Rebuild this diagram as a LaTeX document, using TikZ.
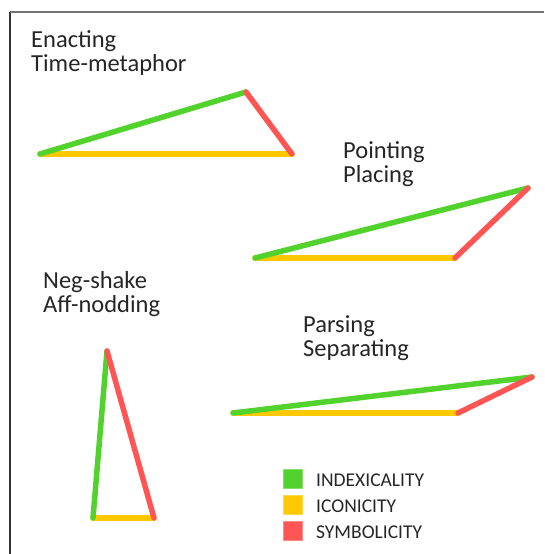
\documentclass[tikz,border=0pt]{standalone}
\usepackage{fontspec}
\setmainfont{Carlito}
\usepackage{xcolor}
\usepackage{tikz}
\usetikzlibrary{positioning}

\definecolor{indexgreen}{HTML}{52D22C}
\definecolor{icongold}{HTML}{FFC800}
\definecolor{symbred}{HTML}{FF5555}

\tikzset{
  edge/.style={line width=5.5pt, line cap=round},
  title/.style={anchor=base west, inner sep=0pt, font=\fontsize{24.5}{26}\selectfont, text=black!85},
  keytext/.style={anchor=base west, inner sep=0pt, font=\fontsize{19.5}{21}\selectfont, text=black!85},
  keybox/.style={minimum size=19pt, inner sep=0pt, line width=0.8pt}
}

\begin{document}
\begin{tikzpicture}[x=1pt, y=-1pt]
        \useasboundingbox (0,0) rectangle (544,554);

        % Frame
        \draw[line width=2pt, black!80] (10,554) -- (10,12);
        \draw[line width=2pt, black!55] (10,12) -- (544,12);

        % Enacting
        \node[title] (enact) at (31,47) {Enacting};
        \node[title] (timemeta) at (31,71) {Time-metaphor};
        \coordinate (ea) at (40,154);
        \coordinate (eb) at (246,92);
        \coordinate (ec) at (292,154);
        \draw[edge, icongold] (ea) -- (ec);
        \draw[edge, indexgreen] (ea) -- (eb);
        \draw[edge, symbred] (eb) -- (ec);

        % Pointing
        \node[title] (point) at (343,158) {Pointing};
        \node[title] (place) at (343,182) {Placing};
        \coordinate (pa) at (255,258);
        \coordinate (pb) at (528,188);
        \coordinate (pc) at (455,258);
        \draw[edge, icongold] (pa) -- (pc);
        \draw[edge, indexgreen] (pa) -- (pb);
        \draw[edge, symbred] (pb) -- (pc);

        % Neg-shake
        \node[title] (negshake) at (43,288) {Neg-shake};
        \node[title] (affnod) at (43,312) {Aff-nodding};
        \coordinate (na) at (93,518);
        \coordinate (nb) at (107,351);
        \coordinate (nc) at (154,518);
        \draw[edge, icongold] (na) -- (nc);
        \draw[edge, indexgreen] (na) -- (nb);
        \draw[edge, symbred] (nb) -- (nc);

        % Parsing
        \node[title] (parse) at (303,332) {Parsing};
        \node[title] (separ) at (303,356) {Separating};
        \coordinate (sa) at (233,413);
        \coordinate (sb) at (532,377);
        \coordinate (sc) at (458,413);
        \draw[edge, icongold] (sa) -- (sc);
        \draw[edge, indexgreen] (sa) -- (sb);
        \draw[edge, symbred] (sb) -- (sc);

        % Legend
        \node[keybox, fill=indexgreen, draw=indexgreen!70] (kindex) at (292.5,479) {};
        \node[keybox, fill=icongold, draw=icongold!70] (kicon) at (292.5,505) {};
        \node[keybox, fill=symbred, draw=symbred!70] (ksymb) at (292.5,531) {};
        \node[keytext] (tindex) at (316,486) {INDEXICALITY};
        \node[keytext] (ticon) at (316,512) {ICONICITY};
        \node[keytext] (tsymb) at (316,538) {SYMBOLICITY};
      \end{tikzpicture}
\end{document}
